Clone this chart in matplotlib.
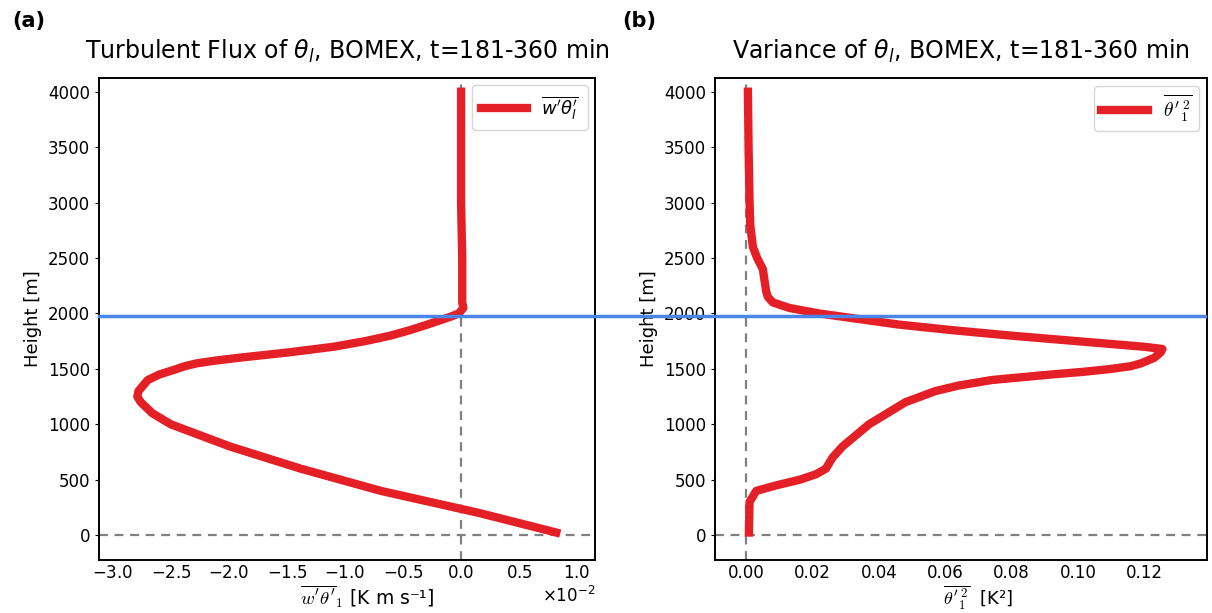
import matplotlib
matplotlib.use("Agg")
import matplotlib.pyplot as plt
from matplotlib.lines import Line2D
from matplotlib.transforms import blended_transform_factory

# ---- data ----
flux_height = [25, 200, 400, 600, 800, 1000, 1100, 1200, 1250, 1300, 1400, 1450,
               1500, 1525, 1550, 1575, 1600, 1625, 1650, 1700, 1750, 1800, 1850,
               1900, 1950, 1975, 2000, 2050, 2100, 2200, 2500, 3000, 3500, 4000]
flux_value = [0.0082, 0.0016, -0.0069, -0.0138, -0.0199, -0.0250, -0.0266, -0.0276,
              -0.0279, -0.0278, -0.0270, -0.0260, -0.0245, -0.0238, -0.0228,
              -0.0212, -0.0192, -0.0170, -0.0148, -0.0110, -0.0083, -0.0061,
              -0.0044, -0.0029, -0.0015, -0.0008, -0.0002, 0.0002, 0.0001, 0.0001,
              0.0001, 0.0, 0.0, 0.0]

var_height = [25, 300, 400, 450, 500, 550, 600, 650, 700, 800, 1000, 1200, 1300,
              1350, 1400, 1425, 1450, 1475, 1500, 1525, 1550, 1600, 1650, 1680,
              1700, 1750, 1800, 1850, 1900, 1950, 2000, 2050, 2100, 2150, 2200,
              2300, 2400, 2500, 2600, 2800, 3000, 3500, 4000]
var_value = [0.0008, 0.0010, 0.0030, 0.0090, 0.0160, 0.0210, 0.0240, 0.0250,
             0.0260, 0.0290, 0.0370, 0.0480, 0.0570, 0.0640, 0.0740, 0.0830,
             0.0920, 0.1020, 0.1100, 0.1160, 0.1190, 0.1230, 0.1250, 0.1255,
             0.1200, 0.1000, 0.0800, 0.0620, 0.0460, 0.0340, 0.0220, 0.0130,
             0.0080, 0.0065, 0.0060, 0.0055, 0.0050, 0.0033, 0.0020, 0.0012,
             0.0010, 0.0007, 0.0005]

cloud_top = 1980
yticks = [0, 500, 1000, 1500, 2000, 2500, 3000, 3500, 4000]

red = '#e41f26'
blue = '#4a86e8'

fig = plt.figure(figsize=(12.12, 6.13), dpi=100)
ax1 = fig.add_axes([0.0817, 0.087, 0.4093, 0.786])
ax2 = fig.add_axes([0.590, 0.087, 0.406, 0.786])

for ax in (ax1, ax2):
    ax.axhline(0, color='gray', ls='--', lw=1.6, dashes=(4, 3), zorder=1)
    ax.axvline(0, color='gray', ls='--', lw=1.6, dashes=(4, 3), zorder=1)
    ax.set_ylim(-220, 4125)
    ax.set_yticks(yticks)
    ax.set_ylabel('Height [m]', fontsize=13)
    ax.tick_params(labelsize=12, length=3)
    ax.tick_params(axis='x', length=0, pad=3)
    for s in ax.spines.values():
        s.set_linewidth(1.4)

ax1.plot(flux_value, flux_height, color=red, lw=6,
         label=r'$\overline{w^\prime\theta^\prime_l}$', zorder=3)
ax1.set_xlim(-0.0312, 0.01155)
ax1.ticklabel_format(axis='x', style='sci', scilimits=(0, 0), useMathText=True)
ax1.xaxis.get_offset_text().set_fontsize(12)
ax1.set_title(r'Turbulent Flux of $\theta_l$, BOMEX, t=181-360 min', fontsize=17, pad=14)
ax1.set_xlabel(r'$\overline{w^\prime\theta^\prime}_1$ [K m s⁻¹]', fontsize=13.5,
               math_fontfamily='cm')
ax1.xaxis.set_label_coords(0.54, -0.05)
ax1.legend(loc='upper right', fontsize=13, handlelength=2.5, borderpad=0.5,
           borderaxespad=0.4)

ax2.plot(var_value, var_height, color=red, lw=6,
         label=r'$\overline{{\theta^\prime}_1^{\,2}}$', zorder=3)
ax2.set_xlim(-0.0094, 0.139)
ax2.set_xticks([0.0, 0.02, 0.04, 0.06, 0.08, 0.10, 0.12])
ax2.set_xticklabels(['0.00', '0.02', '0.04', '0.06', '0.08', '0.10', '0.12'])
ax2.set_title(r'Variance of $\theta_l$, BOMEX, t=181-360 min', fontsize=17, pad=14)
ax2.set_xlabel(r'$\overline{{\theta^\prime}_1^{\,2}}$  [K²]', fontsize=13,
               math_fontfamily='cm')
ax2.xaxis.set_label_coords(0.535, -0.05)
leg2 = ax2.legend(loc='upper right', fontsize=14, handlelength=2.4, borderpad=0.35,
                  borderaxespad=0.4)
for t in leg2.get_texts():
    t.set_math_fontfamily('cm')

fig.text(0.010, 0.965, '(a)', fontsize=15, fontweight='bold', va='center')
fig.text(0.513, 0.965, '(b)', fontsize=15, fontweight='bold', va='center')

# horizontal cloud-top line spanning both panels
p1 = ax1.get_position()
p2 = ax2.get_position()
tr = blended_transform_factory(fig.transFigure, ax1.transData)
fig.add_artist(Line2D([p1.x0, p2.x1 - 0.002], [cloud_top, cloud_top],
                      transform=tr, color=blue, lw=2.5, zorder=10))

fig.savefig('out.png', dpi=100)
